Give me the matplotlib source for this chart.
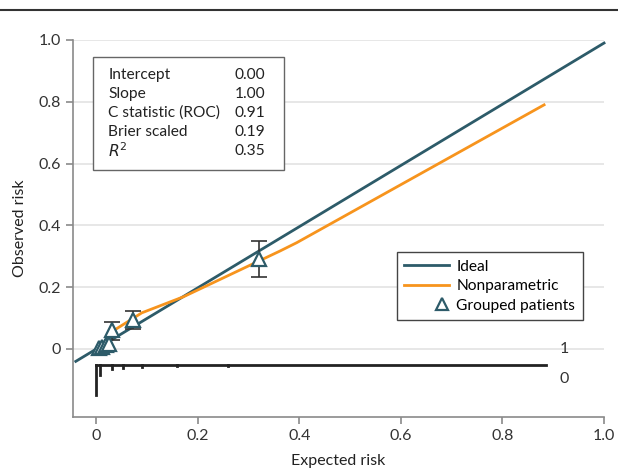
import matplotlib.pyplot as plt
from matplotlib.lines import Line2D
from matplotlib.patches import Rectangle
from matplotlib.legend_handler import HandlerLine2D

plt.rcParams["font.family"] = ["Lato", "DejaVu Sans"]

# ideal line
ideal_x = [-0.04, 1.0]
ideal_y = [-0.04, 0.99]

# nonparametric smooth
np_x = [0.031, 0.09, 0.172, 0.362, 0.395, 0.882]
np_y = [0.056, 0.117, 0.169, 0.317, 0.344, 0.790]

# grouped patients (deciles) with CI
grp_x = [0.005, 0.012, 0.019, 0.026, 0.031, 0.072, 0.320]
grp_y = [0.003, 0.008, 0.012, 0.015, 0.062, 0.094, 0.290]
grp_lo = [None, None, None, None, 0.029, 0.064, 0.234]
grp_hi = [None, None, None, None, 0.086, 0.122, 0.350]

# rug / histogram of non-events below the baseline
rug_x = [0.0, 0.008, 0.031, 0.052, 0.09, 0.16, 0.26]
rug_len = [0.097, 0.032, 0.013, 0.008, 0.005, 0.004, 0.004]

stats_labels = ["Intercept", "Slope", "C statistic (ROC)", "Brier scaled", "$R^2$"]
stats_values = ["0.00", "1.00", "0.91", "0.19", "0.35"]

teal = "#2d5b69"
orange = "#f7941d"
fs = 11.2


class RightMarkerHandler(HandlerLine2D):
    # put the single marker at the right end of the handle area
    def get_xdata(self, legend, xdescent, ydescent, width, height, fontsize):
        x = -xdescent + width - 5
        return [x, x], [x]


fig = plt.figure(figsize=(6.18, 4.70), dpi=100)
ax = fig.add_axes([0.1177, 0.1128, 0.8597, 0.8022])

ax.set_xlim(-0.046, 1.0)
ax.set_ylim(-0.22, 1.0)

ax.set_yticks([0, 0.2, 0.4, 0.6, 0.8, 1.0])
ax.set_yticklabels(["0", "0.2", "0.4", "0.6", "0.8", "1.0"])
ax.set_xticks([0, 0.2, 0.4, 0.6, 0.8, 1.0])
ax.set_xticklabels(["0", "0.2", "0.4", "0.6", "0.8", "1.0"])
ax.grid(axis="y", color="#e3e3e3", lw=1.2)
ax.set_axisbelow(True)
for s in ["top", "right"]:
    ax.spines[s].set_visible(False)
for s in ["left", "bottom"]:
    ax.spines[s].set_color("#8a8a8a")
    ax.spines[s].set_linewidth(1.2)
ax.tick_params(colors="#8a8a8a", labelcolor="#333333", labelsize=11.5, length=5, width=1.2)

ax.plot(ideal_x, ideal_y, color=teal, lw=2, clip_on=False, zorder=3)
ax.plot(np_x, np_y, color=orange, lw=2, zorder=3)

for x, y, lo, hi in zip(grp_x, grp_y, grp_lo, grp_hi):
    if lo is not None:
        ax.errorbar([x], [y], yerr=[[y - lo], [hi - y]], fmt="none",
                    ecolor="#333333", elinewidth=1.2, capsize=6, capthick=1.2, zorder=4)
ax.plot(grp_x, grp_y, ls="none", marker="^", ms=10, mfc="white",
        mec=teal, mew=1.6, zorder=5)

# rug
base = -0.052
ax.plot([0, 0.885], [base, base], color="#222222", lw=2, zorder=3)
for x, l in zip(rug_x, rug_len):
    ax.plot([x, x], [base, base - l], color="#222222", lw=2, zorder=3)
ax.text(0.912, 0.0, "1", fontsize=11.5, color="#333333", va="center")
ax.text(0.912, -0.097, "0", fontsize=11.5, color="#333333", va="center")

# stats box
ax.add_patch(Rectangle((-0.006, 0.579), 0.376, 0.366, fill=True, fc="white",
                       ec="#666666", lw=1, zorder=6))
for i, (lab, val) in enumerate(zip(stats_labels, stats_values)):
    yy = 0.887 - i * 0.0615
    ax.text(0.024, yy, lab, fontsize=fs, color="#222222", va="center", zorder=7)
    ax.text(0.333, yy, val, fontsize=fs, color="#222222", va="center", ha="right", zorder=7)

handles = [
    Line2D([], [], color=teal, lw=2),
    Line2D([], [], color=orange, lw=2),
    Line2D([], [], ls="none", marker="^", ms=9, mfc="white", mec=teal, mew=1.6),
]
leg = ax.legend(handles, ["Ideal", "Nonparametric", "Grouped patients"],
                loc="upper right", bbox_to_anchor=(0.9605, 0.4377),
                fontsize=fs, fancybox=False, edgecolor="#444444",
                framealpha=1, handlelength=2.9, handletextpad=0.45,
                borderpad=0.5, labelspacing=0.35, borderaxespad=0,
                handler_map={handles[2]: RightMarkerHandler(numpoints=1)})
leg.get_frame().set_linewidth(1)

ax.set_xlabel("Expected risk", fontsize=11.5, color="#222222", labelpad=8)
ax.set_ylabel("Observed risk", fontsize=11.5, color="#222222", labelpad=8)

# top rule across figure
fig.add_artist(Line2D([0, 1], [1 - 10 / 470, 1 - 10 / 470], color="#333333", lw=1.5))

fig.savefig("out.png", dpi=100)
